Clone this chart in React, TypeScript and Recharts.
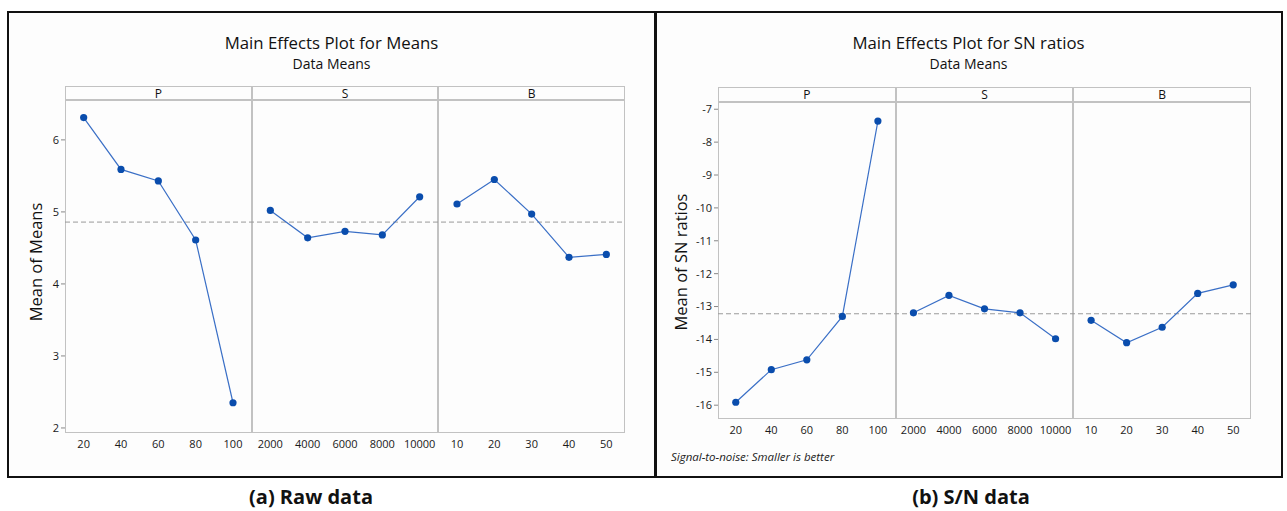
import { LineChart, Line, XAxis, YAxis, ReferenceLine } from 'recharts'

const factors = ['P', 'S', 'B']
const pLevels = [20, 40, 60, 80, 100]
const sLevels = [2000, 4000, 6000, 8000, 10000]
const bLevels = [10, 20, 30, 40, 50]

// raw data means
const meansP = [6.31, 5.59, 5.43, 4.61, 2.35]
const meansS = [5.02, 4.64, 4.73, 4.68, 5.21]
const meansB = [5.11, 5.45, 4.97, 4.37, 4.41]

// S/N ratios (smaller is better)
const snP = [-15.91, -14.92, -14.62, -13.3, -7.36]
const snS = [-13.19, -12.66, -13.07, -13.19, -13.98]
const snB = [-13.42, -14.1, -13.63, -12.6, -12.34]

const meansTicks = [2, 3, 4, 5, 6]
const snTicks = [-16, -15, -14, -13, -12, -11, -10, -9, -8, -7]

const levelLabels = [...pLevels, ...sLevels, ...bLevels]
const xTicks = levelLabels.map((_, i) => i + 0.5)
const keys = ['p', 's', 'b']

const FONT = '"Open Sans", "Noto Sans", sans-serif'
const LINE = '#3a6fc6'
const DOT = '#0a4dad'
const GRID = '#c2c2c2'
const YW = 35
const XH = 30
const PAD = 12

function buildRows(groups: number[][]) {
  const rows: Record<string, number>[] = []
  groups.forEach((vals, k) => {
    vals.forEach((v, i) => {
      rows.push({ x: k * 5 + i + 0.5, [keys[k]]: v })
    })
  })
  return rows
}

interface PanelProps {
  box:      { x: number; y: number; w: number; h: number; bl: number }
  plot:     { x0: number; x1: number; stripTop: number; top: number; bottom: number }
  title:    string
  yLabel:   string
  labelX:   number
  domain:   [number, number]
  yTicks:   number[]
  groups:   number[][]
  note?:    string
  caption:  string
  captionX: number
}

function Panel({ box, plot, title, yLabel, labelX, domain, yTicks, groups, note, caption, captionX }: PanelProps) {
  const rows = buildRows(groups)
  const all = groups.flat()
  const grand = all.reduce((a, b) => a + b, 0) / all.length
  const pw = plot.x1 - plot.x0
  const cx = box.x + box.w / 2
  return (
    <>
      <div style={{ position: 'absolute', left: box.x, top: box.y, width: box.w, height: box.h, border: '2px solid #111', borderLeftWidth: box.bl, boxSizing: 'border-box', background: '#fdfdfd' }} />
      <div style={{ position: 'absolute', left: cx - 200, top: 32, width: 400, textAlign: 'center', fontSize: 16.8, color: '#111', lineHeight: '22px' }}>{title}</div>
      <div style={{ position: 'absolute', left: cx - 200, top: 55, width: 400, textAlign: 'center', fontSize: 14, color: '#111', lineHeight: '18px' }}>Data Means</div>

      {/* facet frame and strips */}
      <div style={{ position: 'absolute', left: plot.x0, top: plot.stripTop, width: pw, height: plot.bottom - plot.stripTop, border: `1px solid ${GRID}`, boxSizing: 'border-box' }} />
      <div style={{ position: 'absolute', left: plot.x0, top: plot.top - 2, width: pw, height: 0, borderTop: `2px solid ${GRID}` }} />
      {factors.map((f, k) => (
        <div key={f} style={{ position: 'absolute', left: plot.x0 + (k * pw) / 3, top: plot.stripTop, width: pw / 3, height: plot.top - plot.stripTop, lineHeight: `${plot.top - plot.stripTop}px`, textAlign: 'center', fontSize: 12, color: '#111' }}>{f}</div>
      ))}
      {[1, 2].map((k) => (
        <div key={k} style={{ position: 'absolute', left: plot.x0 + (k * pw) / 3 - 1, top: plot.stripTop, width: 0, height: plot.bottom - plot.stripTop, borderLeft: `2px solid ${GRID}` }} />
      ))}

      <div style={{ position: 'absolute', left: plot.x0 - YW, top: plot.top - PAD }}>
        <LineChart width={pw + YW} height={plot.bottom - plot.top + XH + PAD} data={rows} margin={{ top: PAD, right: 0, bottom: 0, left: 0 }}>
          <XAxis
            dataKey="x"
            type="number"
            domain={[0, 15]}
            ticks={xTicks}
            interval={0}
            tickFormatter={(v: number) => String(levelLabels[Math.floor(v)])}
            axisLine={false}
            tickLine={false}
            tickSize={4}
            tickMargin={3}
            height={XH}
            tick={{ fontSize: 11, fill: '#1a1a1a', fontFamily: FONT }}
          />
          <YAxis
            type="number"
            domain={domain}
            ticks={yTicks}
            allowDataOverflow
            width={YW}
            axisLine={false}
            tickLine={{ stroke: '#888' }}
            tickSize={4}
            tickMargin={2}
            interval={0}
            tick={{ fontSize: 11, fill: '#1a1a1a', fontFamily: FONT }}
          />
          <ReferenceLine y={grand} stroke="#9a9a9a" strokeDasharray="5 3" strokeWidth={1} />
          {keys.map((k) => (
            <Line
              key={k}
              dataKey={k}
              stroke={LINE}
              strokeWidth={1.2}
              dot={{ r: 3.6, fill: DOT, stroke: DOT, strokeWidth: 0 }}
              activeDot={false}
              isAnimationActive={false}
            />
          ))}
        </LineChart>
      </div>

      <div style={{ position: 'absolute', left: labelX - 120, top: 262 - 12, width: 240, height: 24, lineHeight: '24px', textAlign: 'center', fontSize: 16.5, color: '#111', transform: 'rotate(-90deg)' }}>{yLabel}</div>
      {note && (
        <div style={{ position: 'absolute', left: box.x + 17, top: 449, fontSize: 11.5, fontStyle: 'italic', color: '#222', whiteSpace: 'nowrap' }}>{note}</div>
      )}
      <div style={{ position: 'absolute', left: captionX - 150, top: 483, width: 300, textAlign: 'center', fontSize: 20, fontWeight: 700, color: '#111' }}>{caption}</div>
    </>
  )
}

export default function App() {
  return (
    <div style={{ position: 'absolute', left: 0, top: 0, width: 1287, height: 511, background: '#fff', fontFamily: FONT, overflow: 'hidden' }}>
      <Panel
        box={{ x: 7, y: 11, w: 649, h: 467, bl: 2 }}
        plot={{ x0: 65, x1: 625, stripTop: 86, top: 101, bottom: 433 }}
        title="Main Effects Plot for Means"
        yLabel="Mean of Means"
        labelX={36}
        domain={[1.93, 6.54]}
        yTicks={meansTicks}
        groups={[meansP, meansS, meansB]}
        caption="(a) Raw data"
        captionX={311}
      />
      <Panel
        box={{ x: 654, y: 11, w: 629, h: 467, bl: 3 }}
        plot={{ x0: 718, x1: 1251, stripTop: 87, top: 103, bottom: 419 }}
        title="Main Effects Plot for SN ratios"
        yLabel="Mean of SN ratios"
        labelX={681}
        domain={[-16.42, -6.81]}
        yTicks={snTicks}
        groups={[snP, snS, snB]}
        note="Signal-to-noise: Smaller is better"
        caption="(b) S/N data"
        captionX={971}
      />
    </div>
  )
}
